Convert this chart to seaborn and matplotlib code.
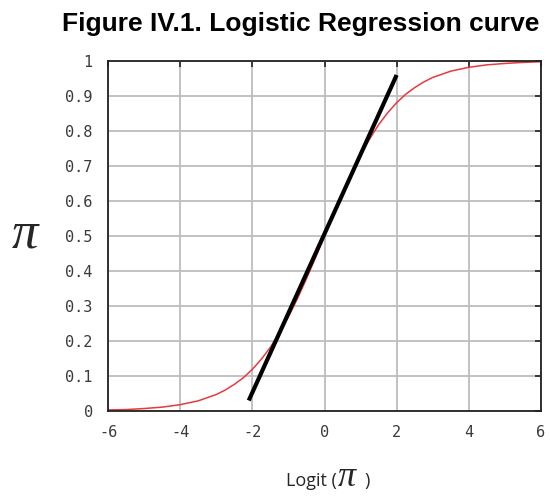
import matplotlib
matplotlib.use("Agg")
import matplotlib.pyplot as plt
import seaborn as sns
import pandas as pd

# Logistic curve: probability pi against logit(pi)
logit_vals = [-6, -5.5, -5, -4.5, -4, -3.5, -3, -2.75, -2.5, -2.25, -2, -1.75,
              -1.5, -1.25, -1, -0.75, -0.5, -0.25, 0, 0.25, 0.5, 0.75, 1, 1.25,
              1.5, 1.75, 2, 2.25, 2.5, 2.75, 3, 3.5, 4, 4.5, 5, 5.5, 6]
pi_vals = [0.003, 0.004, 0.007, 0.011, 0.018, 0.029, 0.047, 0.060, 0.076,
           0.095, 0.119, 0.148, 0.182, 0.223, 0.269, 0.321, 0.378, 0.438, 0.5,
           0.562, 0.622, 0.679, 0.731, 0.777, 0.818, 0.852, 0.881, 0.905,
           0.924, 0.940, 0.953, 0.971, 0.982, 0.989, 0.993, 0.996, 0.998]

# Linear approximation through the centre of the curve
lin_x = [-2.1, 2.0]
lin_y = [0.03, 0.96]

x_ticks = [-6, -4, -2, 0, 2, 4, 6]
y_ticks = [0, 0.1, 0.2, 0.3, 0.4, 0.5, 0.6, 0.7, 0.8, 0.9, 1]
y_ticklabels = ["0", "0.1", "0.2", "0.3", "0.4", "0.5", "0.6", "0.7", "0.8", "0.9", "1"]

curve = pd.DataFrame({"logit": logit_vals, "pi": pi_vals})
line = pd.DataFrame({"logit": lin_x, "pi": lin_y})

sns.set_style("white")
fig = plt.figure(figsize=(5.5, 4.96), dpi=100)
ax = fig.add_axes([0.1964, 0.1714, 0.7872, 0.7056])

sns.lineplot(data=curve, x="logit", y="pi", ax=ax, color="#e8393c", lw=1.1)
sns.lineplot(data=line, x="logit", y="pi", ax=ax, color="black", lw=3,
             solid_capstyle="butt")

ax.set_xlim(-6, 6)
ax.set_ylim(0, 1)
ax.set_xticks(x_ticks)
ax.set_xticklabels([str(v) for v in x_ticks])
ax.set_yticks(y_ticks)
ax.set_yticklabels(y_ticklabels)
ax.grid(True, color="#bdbdbd", lw=1.3)
ax.set_axisbelow(True)
for s in ax.spines.values():
    s.set_visible(True)
    s.set_color("#222222")
    s.set_linewidth(1.3)
ax.tick_params(axis="both", direction="in", length=4, width=1.2, color="#222222",
               top=True, right=True, labelsize=11, labelcolor="#3a3a3a")
ax.tick_params(axis="y", pad=11)
ax.tick_params(axis="x", pad=10)
for lab in ax.get_xticklabels() + ax.get_yticklabels():
    lab.set_family("DejaVu Sans Mono")
ax.set_xlabel("")
ax.set_ylabel("")

fig.text(0.113, 0.938, "Figure IV.1. Logistic Regression curve", ha="left",
         va="baseline", fontsize=19, fontweight="bold", family="Liberation Sans",
         color="black")
fig.text(0.045, 0.5, "π", ha="center", va="baseline", fontsize=38,
         style="italic", family="Liberation Serif")
fig.text(0.52, 0.02, "Logit (", ha="left", va="baseline", fontsize=13,
         family="Open Sans")
fig.text(0.631, 0.02, "π", ha="center", va="baseline", fontsize=26,
         style="italic", family="Liberation Serif")
fig.text(0.662, 0.02, ")", ha="left", va="baseline", fontsize=13,
         family="Open Sans")

fig.savefig("out.png", dpi=100)
